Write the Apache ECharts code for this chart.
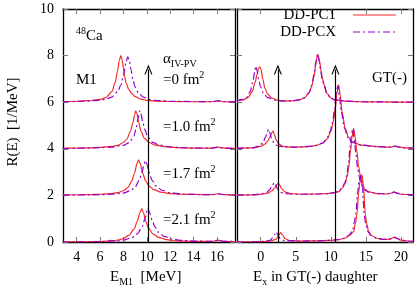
<!DOCTYPE html>
<html>
<head>
<meta charset="utf-8">
<script src="https://cdn.jsdelivr.net/npm/echarts@6/dist/echarts.min.js"></script>
<style>
html, body { margin: 0; padding: 0; background: #fff; }
#chart { width: 415px; height: 290px; }
</style>
</head>
<body>
<div id="chart"></div>
<script>
// tick labels
const xTicksM1 = [4, 6, 8, 10, 12, 14, 16]
const xTicksGT = [0, 5, 10, 15, 20]
const yTicks = [0, 2, 4, 6, 8, 10]
const alphaLabels = ['=0 fm', '=1.0 fm', '=1.7 fm', '=2.1 fm']

// M1 strength, offset by 6/4/2/0 for alpha = 0, 1.0, 1.7, 2.1
const m1Pc1A0 = [[2.8,6.03],[4,6.04],[5,6.07],[6,6.12],[6.5,6.2],[7.0,6.45],[7.3,6.85],[7.5,7.35],[7.65,7.8],[7.78,8.0],[7.9,7.8],[8.0,7.45],[8.1,7.1],[8.25,6.8],[8.45,6.55],[8.7,6.38],[9.0,6.24],[9.5,6.13],[10,6.08],[11,6.04],[12,6.03],[14,6.02],[15.6,6.02],[16.1,6.06],[16.6,6.02],[17.6,6.01]]
const m1PcxA0 = [[2.8,6.02],[4,6.03],[5,6.05],[6,6.09],[6.5,6.13],[7.0,6.22],[7.5,6.45],[7.8,6.75],[8.0,7.15],[8.2,7.65],[8.37,7.95],[8.5,7.8],[8.65,7.4],[8.8,7.0],[9.0,6.65],[9.3,6.38],[9.7,6.22],[10.2,6.12],[11,6.07],[12,6.04],[14,6.03],[15.6,6.02],[16.1,6.06],[16.6,6.02],[17.6,6.01]]
const m1Pc1A1 = [[2.8,4.02],[5,4.04],[6,4.06],[7,4.1],[7.5,4.15],[8,4.27],[8.3,4.42],[8.6,4.75],[8.8,5.1],[8.95,5.45],[9.05,5.63],[9.15,5.52],[9.3,5.15],[9.5,4.75],[9.8,4.45],[10.2,4.27],[10.7,4.16],[11.5,4.09],[12.5,4.05],[14,4.03],[15.6,4.03],[16.1,4.07],[16.6,4.03],[17.6,4.02]]
const m1PcxA1 = [[2.8,4.01],[5,4.03],[6,4.05],[7,4.07],[8,4.15],[8.5,4.27],[8.9,4.55],[9.1,4.9],[9.25,5.3],[9.4,5.63],[9.5,5.5],[9.65,5.15],[9.85,4.8],[10.1,4.5],[10.5,4.28],[11,4.17],[12,4.08],[13,4.05],[14,4.04],[15.6,4.03],[16.1,4.07],[16.6,4.03],[17.6,4.02]]
const m1Pc1A2 = [[2.8,2.02],[5,2.03],[6,2.05],[7,2.08],[7.5,2.12],[8,2.2],[8.4,2.35],[8.7,2.6],[8.95,2.95],[9.15,3.35],[9.3,3.53],[9.45,3.35],[9.65,2.95],[9.9,2.62],[10.2,2.4],[10.6,2.25],[11.2,2.14],[12,2.08],[13,2.05],[14,2.04],[15.6,2.03],[16.1,2.07],[16.6,2.03],[17.6,2.02]]
const m1PcxA2 = [[2.8,2.01],[5,2.02],[6,2.03],[7,2.05],[8,2.1],[8.6,2.2],[9.0,2.35],[9.35,2.65],[9.6,3.0],[9.75,3.3],[9.88,3.5],[10.0,3.35],[10.2,3.0],[10.45,2.65],[10.8,2.4],[11.3,2.22],[12,2.12],[13,2.06],[14,2.04],[15.6,2.03],[16.1,2.07],[16.6,2.03],[17.6,2.02]]
const m1Pc1A3 = [[2.8,0],[5,0.01],[6,0.02],[6.6,0.04],[6.9,0.07],[7.2,0.06],[7.6,0.09],[8,0.15],[8.5,0.3],[8.9,0.55],[9.2,0.9],[9.4,1.25],[9.57,1.42],[9.72,1.25],[9.9,0.9],[10.15,0.6],[10.5,0.36],[11,0.2],[11.7,0.1],[12.5,0.05],[14,0.03],[15.6,0.03],[16.1,0.08],[16.6,0.03],[17.6,0.02]]
const m1PcxA3 = [[2.8,0],[5,0.01],[6,0.02],[7,0.04],[7.5,0.05],[8,0.08],[8.7,0.18],[9.2,0.35],[9.6,0.65],[9.85,1.0],[10.08,1.45],[10.25,1.25],[10.45,0.95],[10.7,0.65],[11,0.42],[11.5,0.24],[12.2,0.12],[13,0.07],[14,0.04],[15.6,0.03],[16.1,0.08],[16.6,0.03],[17.6,0.02]]

// GT(-) strength, same offsets
const gtPc1A0 = [[-3.4,6.05],[-2.5,6.1],[-1.8,6.2],[-1.2,6.45],[-0.8,6.85],[-0.5,7.2],[-0.3,7.45],[-0.14,7.52],[0.05,7.4],[0.3,7.0],[0.6,6.6],[1.0,6.35],[1.6,6.18],[2.5,6.08],[3.5,6.05],[4.5,6.06],[5.5,6.1],[6.3,6.2],[6.9,6.4],[7.3,6.7],[7.6,7.1],[7.85,7.6],[8.0,7.9],[8.16,8.05],[8.4,7.75],[8.6,7.35],[8.8,7.0],[9.1,6.7],[9.45,6.38],[10.0,6.18],[10.6,6.1],[12,6.05],[14,6.02],[17,6.01],[21.8,6.0]]
const gtPcxA0 = [[-3.4,6.06],[-2.5,6.12],[-2,6.2],[-1.5,6.45],[-1.1,6.9],[-0.85,7.3],[-0.71,7.55],[-0.55,7.4],[-0.3,7.0],[0,6.65],[0.4,6.38],[1.0,6.2],[2,6.09],[3,6.05],[4.5,6.06],[5.5,6.1],[6.3,6.2],[6.9,6.42],[7.3,6.75],[7.6,7.2],[7.85,7.7],[8.05,8.0],[8.12,8.05],[8.35,7.75],[8.55,7.35],[8.75,7.0],[9.05,6.7],[9.4,6.38],[10,6.17],[10.6,6.1],[12,6.05],[14,6.02],[17,6.01],[21.8,6.0]]
const gtPc1A1 = [[-3.4,4.02],[-1,4.04],[0,4.1],[0.6,4.2],[1.0,4.33],[1.35,4.52],[1.6,4.7],[1.75,4.76],[1.95,4.62],[2.2,4.38],[2.6,4.2],[3.2,4.1],[4.5,4.07],[6,4.08],[7,4.1],[8,4.15],[8.8,4.24],[9.5,4.42],[10.0,4.75],[10.35,5.15],[10.63,5.72],[10.87,6.4],[11.1,6.75],[11.34,6.3],[11.58,5.6],[12.05,4.88],[12.5,4.5],[13.0,4.3],[14.4,4.16],[16.6,4.09],[18.4,4.07],[18.9,4.1],[19.2,4.12],[19.6,4.08],[20.5,4.04],[21.8,4.03]]
const gtPcxA1 = [[-3.4,4.02],[-1,4.05],[-0.2,4.12],[0.3,4.25],[0.7,4.5],[0.95,4.72],[1.1,4.84],[1.3,4.7],[1.55,4.45],[1.9,4.24],[2.4,4.13],[3.2,4.08],[4.5,4.07],[6,4.08],[7,4.1],[8,4.15],[8.8,4.24],[9.4,4.42],[9.9,4.75],[10.25,5.15],[10.53,5.72],[10.78,6.4],[11.0,6.7],[11.22,6.3],[11.47,5.6],[11.95,4.88],[12.4,4.5],[12.9,4.3],[14.3,4.16],[16.6,4.09],[18.4,4.07],[18.9,4.1],[19.2,4.12],[19.6,4.08],[20.5,4.04],[21.8,4.03]]
const gtPc1A2 = [[-3.4,2.01],[-1,2.02],[0,2.04],[1,2.1],[1.6,2.2],[2.0,2.32],[2.3,2.46],[2.51,2.52],[2.7,2.45],[3.0,2.28],[3.5,2.14],[4.5,2.07],[6,2.05],[8,2.06],[9.5,2.08],[10.5,2.12],[11.1,2.16],[11.6,2.3],[12.05,2.5],[12.3,2.8],[12.55,3.2],[12.8,3.9],[13.0,4.5],[13.25,4.88],[13.45,4.5],[13.7,3.9],[13.95,3.25],[14.2,2.85],[14.45,2.5],[14.9,2.25],[15.4,2.15],[16.6,2.08],[18,2.06],[18.6,2.1],[19,2.15],[19.4,2.1],[20,2.05],[21.8,2.02]]
const gtPcxA2 = [[-3.4,2.01],[-1,2.03],[0,2.06],[0.8,2.12],[1.3,2.25],[1.65,2.42],[1.94,2.55],[2.15,2.45],[2.4,2.27],[2.8,2.13],[3.5,2.08],[4.5,2.06],[6,2.05],[8,2.06],[9.5,2.08],[10.5,2.12],[11.1,2.17],[11.6,2.32],[12.0,2.55],[12.25,2.85],[12.5,3.3],[12.7,3.95],[12.9,4.55],[13.1,4.85],[13.3,4.5],[13.55,3.85],[13.8,3.2],[14.05,2.8],[14.3,2.48],[14.8,2.24],[15.3,2.15],[16.6,2.08],[18,2.06],[18.6,2.1],[19,2.14],[19.4,2.1],[20,2.05],[21.8,2.02]]
const gtPc1A3 = [[-3.4,0],[-1,0.01],[0.5,0.02],[1.5,0.05],[2.2,0.12],[2.55,0.28],[2.85,0.4],[3.1,0.3],[3.5,0.14],[4.2,0.06],[6,0.04],[8,0.05],[10,0.07],[11,0.1],[12,0.16],[12.7,0.28],[13.25,0.45],[13.5,0.8],[13.72,1.2],[13.95,2.1],[14.15,2.6],[14.43,2.88],[14.67,2.3],[14.9,1.2],[15.1,0.8],[15.38,0.45],[15.8,0.28],[16.57,0.16],[17.5,0.11],[18.4,0.12],[18.8,0.18],[19.1,0.21],[19.4,0.16],[20,0.08],[21,0.04],[21.8,0.03]]
const gtPcxA3 = [[-3.4,0],[-1,0.01],[0.5,0.03],[1.3,0.07],[1.8,0.2],[2.0,0.32],[2.22,0.44],[2.45,0.3],[2.8,0.14],[3.4,0.06],[6,0.04],[8,0.05],[10,0.07],[11,0.1],[12,0.17],[12.6,0.3],[13.1,0.48],[13.35,0.85],[13.57,1.25],[13.8,2.1],[14.0,2.6],[14.27,2.85],[14.5,2.3],[14.75,1.2],[14.95,0.8],[15.25,0.45],[15.7,0.28],[16.5,0.16],[17.5,0.11],[18.4,0.12],[18.8,0.17],[19.1,0.2],[19.4,0.15],[20,0.08],[21,0.04],[21.8,0.03]]

// arrows: [x, from, to]
const m1Arrows = [[10.14, 0, 7.4]]
const gtArrows = [[2.45, 0, 7.4], [10.65, 0, 7.4]]

const FONT = 'Liberation Serif'
const RED = '#f52a2a'
const PURPLE = '#9400d3'
const DASHDOT = [7, 3, 2, 3]
const ARROW_HEAD = 'path://M0,10L5,0L10,10L8.6,10L5,2.8L1.4,10Z'

const chart = echarts.init(document.getElementById('chart'), null, { renderer: 'canvas' })

function curve(name, data, idx, color, dash) {
  return {
    name: name,
    type: 'line',
    xAxisIndex: idx,
    yAxisIndex: idx,
    data: data,
    symbol: 'none',
    smooth: 0.3,
    smoothMonotone: 'x',
    silent: true,
    animation: false,
    z: dash ? 3 : 2,
    lineStyle: { color: color, width: 1.2, type: dash ? DASHDOT : 'solid' }
  }
}

function arrows(list, idx) {
  return {
    type: 'line',
    xAxisIndex: idx,
    yAxisIndex: idx,
    data: [],
    silent: true,
    animation: false,
    markLine: {
      silent: true,
      animation: false,
      symbol: ['none', ARROW_HEAD],
      symbolSize: [8, 10],
      label: { show: false },
      lineStyle: { color: '#000', width: 1.2, type: 'solid' },
      emphasis: { disabled: true },
      data: list.map(a => [{ coord: [a[0], a[1]] }, { coord: [a[0], a[2]] }])
    }
  }
}

function xAx(grid, min, max, ticks, top) {
  return {
    type: 'value', gridIndex: grid, min: min, max: max,
    position: top ? 'top' : 'bottom',
    axisLine: { show: true, onZero: false, lineStyle: { color: '#000', width: 1.3 } },
    axisTick: { show: true, inside: true, length: 5, customValues: ticks, lineStyle: { color: '#777' } },
    axisLabel: { show: !top, customValues: ticks, margin: 8, color: '#000', fontFamily: FONT, fontSize: 14 },
    splitLine: { show: false }
  }
}

function yAx(grid, right, labels) {
  return {
    type: 'value', gridIndex: grid, min: 0, max: 10,
    position: right ? 'right' : 'left',
    axisLine: { show: true, onZero: false, lineStyle: { color: '#000', width: 1.3 } },
    axisTick: { show: true, inside: true, length: 5, customValues: yTicks, lineStyle: { color: '#777' } },
    axisLabel: { show: labels, customValues: yTicks, margin: 9, color: '#000', fontFamily: FONT, fontSize: 14 },
    splitLine: { show: false }
  }
}

const rich = {
  n: { fontFamily: FONT, fontSize: 15, lineHeight: 20, verticalAlign: 'middle', fill: '#000', color: '#000' },
  sup: { fontFamily: FONT, fontSize: 10, lineHeight: 12, verticalAlign: 'top', fill: '#000', color: '#000' },
  sub: { fontFamily: FONT, fontSize: 10, lineHeight: 11, verticalAlign: 'bottom', fill: '#000', color: '#000' }
}

function txt(x, y, text, rot, align) {
  return {
    type: 'text', x: x, y: y, rotation: rot || 0, silent: true,
    style: {
      text: text, rich: rich, fill: '#000', font: '15px ' + FONT,
      align: align || 'left', verticalAlign: 'middle',
      textAlign: align || 'left', textVerticalAlign: 'middle'
    }
  }
}

const alphaY = [80, 127, 174, 220]

chart.setOption({
  backgroundColor: '#fff',
  animation: false,
  grid: [
    { left: 63, top: 9, width: 172, height: 233, outerBoundsMode: 'none' },
    { left: 237, top: 9, width: 176, height: 233, outerBoundsMode: 'none' }
  ],
  xAxis: [
    xAx(0, 2.83, 17.55, xTicksM1, false),
    xAx(1, -3.37, 21.7, xTicksGT, false),
    xAx(0, 2.83, 17.55, xTicksM1, true),
    xAx(1, -3.37, 21.7, xTicksGT, true)
  ],
  yAxis: [
    yAx(0, false, true),
    yAx(1, false, false),
    yAx(0, true, false),
    yAx(1, true, false)
  ],
  series: [
    curve('DD-PC1', m1Pc1A0, 0, RED, false),
    curve('DD-PC1', m1Pc1A1, 0, RED, false),
    curve('DD-PC1', m1Pc1A2, 0, RED, false),
    curve('DD-PC1', m1Pc1A3, 0, RED, false),
    curve('DD-PCX', m1PcxA0, 0, PURPLE, true),
    curve('DD-PCX', m1PcxA1, 0, PURPLE, true),
    curve('DD-PCX', m1PcxA2, 0, PURPLE, true),
    curve('DD-PCX', m1PcxA3, 0, PURPLE, true),
    curve('DD-PC1', gtPc1A0, 1, RED, false),
    curve('DD-PC1', gtPc1A1, 1, RED, false),
    curve('DD-PC1', gtPc1A2, 1, RED, false),
    curve('DD-PC1', gtPc1A3, 1, RED, false),
    curve('DD-PCX', gtPcxA0, 1, PURPLE, true),
    curve('DD-PCX', gtPcxA1, 1, PURPLE, true),
    curve('DD-PCX', gtPcxA2, 1, PURPLE, true),
    curve('DD-PCX', gtPcxA3, 1, PURPLE, true),
    arrows(m1Arrows, 0),
    arrows(gtArrows, 1)
  ],
  graphic: [
    txt(13, 122, '{n|R(E)  [1/MeV]}', Math.PI / 2, 'center'),
    txt(110, 277, '{n|E}{sub|M1}{n|  [MeV]}'),
    txt(253, 277, '{n|E}{sub|x}{n| in GT(-) daughter}'),
    txt(76, 36, '{sup|48}{n|Ca}'),
    txt(76, 80, '{n|M1}'),
    txt(163, 59, '{n|α}{sub|IV-PV}'),
    ...alphaLabels.map((s, i) => txt(163, alphaY[i], '{n|' + s + '}{sup|2}')),
    txt(372, 78, '{n|GT(-)}'),
    // legend
    txt(336, 15, '{n|DD-PC1}', 0, 'right'),
    txt(336, 32, '{n|DD-PCX}', 0, 'right'),
    { type: 'line', silent: true, shape: { x1: 353, y1: 15, x2: 396, y2: 15 }, style: { stroke: RED, lineWidth: 1.2 } },
    { type: 'line', silent: true, shape: { x1: 353, y1: 32, x2: 396, y2: 32 }, style: { stroke: PURPLE, lineWidth: 1.2, lineDash: DASHDOT } }
  ]
})
</script>
</body>
</html>
